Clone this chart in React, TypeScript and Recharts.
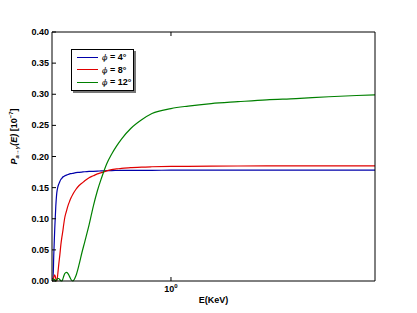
import React from "react";
import { LineChart, Line, XAxis, YAxis, Legend, Label } from "recharts";

// energy grid (KeV) and conversion probability [1e-7] for each angle
const energy = [
  0.517, 0.52, 0.522, 0.525, 0.528, 0.531, 0.534, 0.537, 0.54, 0.543, 0.546,
  0.549, 0.552, 0.555, 0.56, 0.565, 0.57, 0.575, 0.58, 0.59, 0.6, 0.61, 0.62,
  0.635, 0.65, 0.665, 0.68, 0.7, 0.72, 0.74, 0.76, 0.8, 0.85, 0.9, 1.0, 1.1,
  1.25, 1.45, 1.7, 2.0, 2.4, 2.8, 3.1,
];
const phi4 = [
  0.004, 0.003, 0.04, 0.085, 0.12, 0.142, 0.151, 0.156, 0.16, 0.163, 0.165,
  0.167, 0.168, 0.169, 0.17, 0.171, 0.172, 0.1725, 0.173, 0.174, 0.1745, 0.175,
  0.1755, 0.176, 0.1762, 0.1765, 0.177, 0.1772, 0.1774, 0.1775, 0.1776, 0.1777,
  0.1778, 0.1778, 0.178, 0.178, 0.178, 0.178, 0.178, 0.178, 0.178, 0.178,
  0.178,
];
const phi8 = [
  0.0, 0.002, 0.006, 0.01, 0.004, 0.0, 0.012, 0.028, 0.042, 0.058, 0.07, 0.08,
  0.092, 0.102, 0.112, 0.121, 0.128, 0.134, 0.139, 0.147, 0.153, 0.157, 0.161,
  0.166, 0.169, 0.172, 0.174, 0.177, 0.179, 0.18, 0.181, 0.182, 0.183, 0.1835,
  0.184, 0.1842, 0.1845, 0.1847, 0.1848, 0.185, 0.185, 0.185, 0.185,
];
const phi12 = [
  0.0, 0.002, 0.003, 0.002, 0.0, 0.002, 0.004, 0.004, 0.002, 0.0005, 0.0,
  0.003, 0.008, 0.012, 0.014, 0.012, 0.007, 0.002, 0.0, 0.008, 0.025, 0.045,
  0.063, 0.09, 0.12, 0.145, 0.165, 0.188, 0.204, 0.217, 0.228, 0.245, 0.259,
  0.269, 0.277, 0.281, 0.285, 0.288, 0.291, 0.293, 0.296, 0.298, 0.299,
];
const yTicks = [0, 0.05, 0.1, 0.15, 0.2, 0.25, 0.3, 0.35, 0.4];
const xTicks = [1];
const series = [
  { key: "p4", angle: "4°", color: "#0000aa" },
  { key: "p8", angle: "8°", color: "#e00000" },
  { key: "p12", angle: "12°", color: "#008000" },
];

const data = energy.map((E, i) => ({
  E,
  p4: phi4[i],
  p8: phi8[i],
  p12: phi12[i],
}));

const font = "'Liberation Sans', Arial, sans-serif";

const LeftTick = (p: any) => (
  <g>
    <line x1={p.x} x2={p.x + 4} y1={p.y} y2={p.y} stroke="#000" />
    <text
      x={p.x - 3}
      y={p.y}
      dy={3}
      textAnchor="end"
      fontSize={9}
      fontWeight="bold"
      fontFamily={font}
      fill="#000"
    >
      {Number(p.payload.value).toFixed(2)}
    </text>
  </g>
);

const RightTick = (p: any) => (
  <line x1={p.x - 4} x2={p.x} y1={p.y} y2={p.y} stroke="#000" />
);

const BottomTick = (p: any) => (
  <g>
    <line x1={p.x} x2={p.x} y1={p.y} y2={p.y - 4} stroke="#000" />
    <text
      x={p.x}
      y={p.y + 11}
      textAnchor="middle"
      fontSize={9}
      fontWeight="bold"
      fontFamily={font}
      fill="#000"
    >
      10
      <tspan fontSize={6} dy={-4}>
        0
      </tspan>
    </text>
  </g>
);

const TopTick = (p: any) => (
  <line x1={p.x} x2={p.x} y1={p.y} y2={p.y + 4} stroke="#000" />
);

const YLabel = (props: any) => {
  const vb = props.viewBox;
  const cx = 17;
  const cy = vb.y + vb.height / 2 - 20;
  return (
    <text
      transform={`translate(${cx},${cy}) rotate(-90)`}
      textAnchor="middle"
      fontSize={9}
      fontWeight="bold"
      fontFamily={font}
      fill="#000"
    >
      <tspan fontStyle="italic">P</tspan>
      <tspan fontSize={6} dy={2} fontStyle="italic">
        a→γ
      </tspan>
      <tspan dy={-2} fontStyle="italic">
        (E)
      </tspan>
      <tspan> [10</tspan>
      <tspan fontSize={6} dy={-4}>
        −7
      </tspan>
      <tspan dy={4}>]</tspan>
    </text>
  );
};

const XLabel = (props: any) => {
  const vb = props.viewBox;
  return (
    <text
      x={vb.x + vb.width / 2}
      y={303}
      textAnchor="middle"
      fontSize={9}
      fontWeight="bold"
      fontFamily={font}
      fill="#000"
    >
      E(KeV)
    </text>
  );
};

const LegendBox = () => (
  <div
    style={{
      border: "1px solid #000",
      boxShadow: "2px 2px 0 #777",
      background: "#fff",
      width: 61,
      padding: "1px 0 1px 0",
      fontFamily: font,
      fontSize: 9,
      fontWeight: "bold",
      whiteSpace: "nowrap",
    }}
  >
    {series.map((s) => (
      <div
        key={s.key}
        style={{ display: "flex", alignItems: "center", height: 12.5 }}
      >
        <div
          style={{
            marginLeft: 5,
            width: 21,
            height: 0,
            borderTop: `1.5px solid ${s.color}`,
          }}
        />
        <span style={{ marginLeft: 4 }}>
          <span
            style={{
              fontFamily: "'DejaVu Serif', serif",
              fontStyle: "italic",
              fontWeight: "normal",
              fontSize: 8,
            }}
          >
            ϕ
          </span>{" "}
          = {s.angle}
        </span>
      </div>
    ))}
  </div>
);

export default function App() {
  return (
    <div style={{ position: "absolute", left: 0, top: 0, background: "#fff" }}>
      <LineChart
        width={417}
        height={313}
        data={data}
        margin={{ top: 22, right: 32, bottom: 12, left: 12 }}
      >
        <XAxis
          xAxisId="bottom"
          dataKey="E"
          type="number"
          scale="log"
          domain={[0.517, 3.1]}
          allowDataOverflow
          ticks={xTicks}
          height={20}
          tickSize={0}
          tickMargin={0}
          tickLine={false}
          axisLine={{ stroke: "#000" }}
          tick={<BottomTick />}
        >
          <Label content={<XLabel />} />
        </XAxis>
        <XAxis
          xAxisId="top"
          orientation="top"
          dataKey="E"
          type="number"
          scale="log"
          domain={[0.517, 3.1]}
          allowDataOverflow
          ticks={xTicks}
          height={10}
          tickSize={0}
          tickMargin={0}
          tickLine={false}
          axisLine={{ stroke: "#000" }}
          tick={<TopTick />}
        />
        <YAxis
          yAxisId="left"
          type="number"
          domain={[0, 0.4]}
          ticks={yTicks}
          width={40}
          tickSize={0}
          tickMargin={0}
          tickLine={false}
          axisLine={{ stroke: "#000" }}
          tick={<LeftTick />}
        >
          <Label content={<YLabel />} />
        </YAxis>
        <YAxis
          yAxisId="right"
          orientation="right"
          type="number"
          domain={[0, 0.4]}
          ticks={yTicks}
          width={10}
          tickSize={0}
          tickMargin={0}
          tickLine={false}
          axisLine={{ stroke: "#000" }}
          tick={<RightTick />}
        />
        {series.map((s) => (
          <Line
            key={s.key}
            xAxisId="bottom"
            yAxisId="left"
            dataKey={s.key}
            type="monotone"
            stroke={s.color}
            strokeWidth={1.2}
            dot={false}
            isAnimationActive={false}
          />
        ))}
        <Legend
          layout="vertical"
          align="center"
          verticalAlign="middle"
          content={<LegendBox />}
          wrapperStyle={{ position: "absolute", left: 71, top: 49, width: "auto" }}
        />
      </LineChart>
    </div>
  );
}
